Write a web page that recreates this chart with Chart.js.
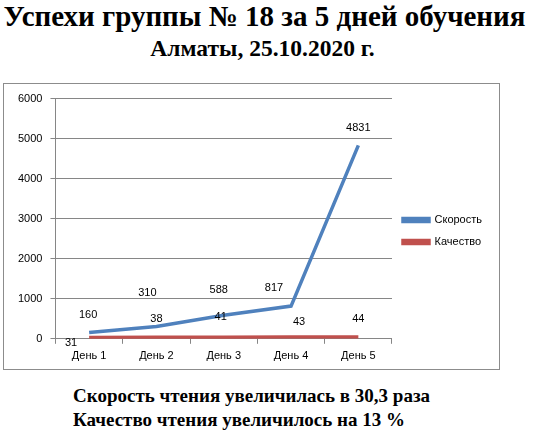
<!DOCTYPE html>
<html>
<head>
<meta charset="utf-8">
<script src="https://cdn.jsdelivr.net/npm/chart.js@4"></script>
<style>
  html, body { margin: 0; padding: 0; background: #fff; }
  body { width: 533px; height: 437px; position: relative; overflow: hidden; font-family: "Liberation Serif", serif; }
  .t { position: absolute; left: 0; width: 533px; text-align: center; font-weight: bold; color: #000; white-space: nowrap; }
  #title { top: 0px; left: -2px; font-size: 29px; }
  #subtitle { top: 35px; left: -4px; font-size: 23.5px; }
  #box { position: absolute; left: 3px; top: 83px; width: 497px; height: 287px; border: 1px solid #8c8c8c; box-sizing: border-box; }
  .note { position: absolute; left: 73px; font-size: 19px; font-weight: bold; white-space: nowrap; }
  #n1 { top: 385px; }
  #n2 { top: 409px; }
</style>
</head>
<body>
<div class="t" id="title">Успехи группы № 18 за 5 дней обучения</div>
<div class="t" id="subtitle">Алматы, 25.10.2020 г.</div>
<div id="box"><canvas id="chart"></canvas></div>
<div class="note" id="n1">Скорость чтения увеличилась в 30,3 раза</div>
<div class="note" id="n2">Качество чтения увеличилось на 13 %</div>
<script>
const days = ['День 1', 'День 2', 'День 3', 'День 4', 'День 5'];
const speed = [160, 310, 588, 817, 4831];
const quality = [31, 38, 41, 43, 44];
const yTicks = [0, 1000, 2000, 3000, 4000, 5000, 6000];

// label offsets (dx, dy) from each point, as placed in the original
const labelOffsets = [
  [[-1, -17], [-9, -33], [-5, -25], [-17, -18], [0, -17]],
  [[-18, 5], [0, -18], [-3, -20], [8, -15], [0, -18]],
];

const pointLabels = {
  id: 'pointLabels',
  afterDatasetsDraw(chart) {
    const ctx = chart.ctx;
    ctx.save();
    ctx.font = '11px "Liberation Sans", sans-serif';
    ctx.fillStyle = '#000';
    ctx.textAlign = 'center';
    ctx.textBaseline = 'middle';
    chart.data.datasets.forEach((ds, i) => {
      chart.getDatasetMeta(i).data.forEach((pt, j) => {
        const off = labelOffsets[i][j];
        ctx.fillText(ds.data[j], pt.x + off[0], pt.y + off[1]);
      });
    });
    ctx.restore();
  }
};

const canvas = document.getElementById('chart');
canvas.width = 495;
canvas.height = 285;

new Chart(canvas.getContext('2d'), {
  type: 'line',
  data: {
    labels: days,
    datasets: [
      {
        label: 'Скорость',
        data: speed,
        borderColor: '#4f81bd',
        backgroundColor: '#4f81bd',
        borderWidth: 3.5,
        pointRadius: 0,
        tension: 0,
      },
      {
        label: 'Качество',
        data: quality,
        borderColor: '#c0504d',
        backgroundColor: '#c0504d',
        borderWidth: 3.5,
        pointRadius: 0,
        tension: 0,
      },
    ],
  },
  options: {
    responsive: false,
    animation: false,
    layout: { padding: { top: 9, left: 6, right: 7, bottom: 0 } },
    plugins: {
      legend: {
        position: 'right',
        labels: {
          boxWidth: 26,
          boxHeight: 3,
          padding: 11,
          color: '#000',
          font: { family: '"Liberation Sans", sans-serif', size: 11 },
        },
      },
      title: { display: false },
      tooltip: { enabled: false },
    },
    scales: {
      x: {
        offset: true,
        grid: { offset: true, drawOnChartArea: false, drawTicks: true, tickLength: 5, color: '#868686' },
        border: { color: '#868686' },
        ticks: { color: '#000', padding: 6, font: { family: '"Liberation Sans", sans-serif', size: 11 } },
      },
      y: {
        min: 0,
        max: 6000,
        afterBuildTicks: (axis) => { axis.ticks = yTicks.map(v => ({ value: v })); },
        grid: { color: '#868686', tickLength: 5 },
        border: { color: '#868686' },
        ticks: {
          color: '#000',
          padding: 8,
          font: { family: '"Liberation Sans", sans-serif', size: 11 },
          callback: (v) => String(v),
        },
      },
    },
  },
  plugins: [pointLabels],
});
</script>
</body>
</html>
